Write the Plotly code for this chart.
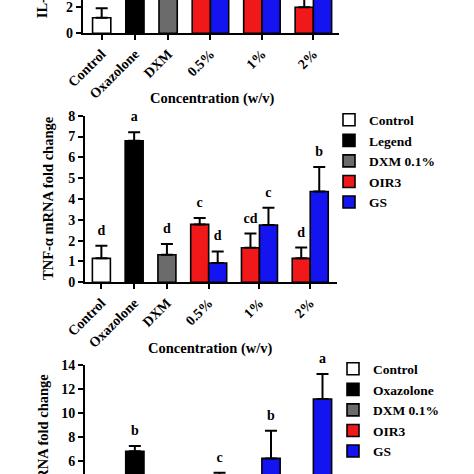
import plotly.graph_objects as go

W = H = 474
FONT = "Liberation Serif"

categories = ["Control", "Oxazolone", "DXM", "0.5%", "1%", "2%"]
bars_per_category = [1, 1, 1, 2, 2, 2]
series_colors = ["#FFFFFF", "#000000", "#6B6B6B", "#F01818", "#1414F0"]

# ---- Top panel (IL-6, mostly cut off in the reference) ----
il_single_mean = [1.20, 9.50, 4.20]
il_single_err = [0.72, 0.80, 0.60]
il_oir3_mean = [5.80, 6.50, 2.00]
il_oir3_err = [0.70, 0.90, 0.90]
il_gs_mean = [6.00, 7.20, 8.00]
il_gs_err = [0.80, 0.90, 1.00]

# ---- Middle panel (TNF-alpha) ----
tnf_single_mean = [1.15, 6.80, 1.32]
tnf_single_err = [0.61, 0.41, 0.52]
tnf_single_letter = ["d", "a", "d"]
tnf_oir3_mean = [2.78, 1.66, 1.15]
tnf_oir3_err = [0.31, 0.68, 0.52]
tnf_oir3_letter = ["c", "cd", "d"]
tnf_gs_mean = [0.93, 2.75, 4.36]
tnf_gs_err = [0.55, 0.83, 1.18]
tnf_gs_letter = ["d", "c", "b"]
tnf_names = ["Control", "Legend", "DXM 0.1%", "OIR3", "GS"]

# ---- Bottom panel (cut off in the reference; hidden letters unknown) ----
bot_single_mean = [1.00, 6.82, 1.60]
bot_single_err = [0.40, 0.43, 0.50]
bot_single_letter = ["", "b", ""]
bot_oir3_mean = [1.80, 2.10, 2.00]
bot_oir3_err = [0.40, 0.50, 0.40]
bot_oir3_letter = ["", "", ""]
bot_gs_mean = [4.30, 6.22, 11.17]
bot_gs_err = [0.73, 2.31, 2.08]
bot_gs_letter = ["c", "b", "a"]
bot_names = ["Control", "Oxazolone", "DXM 0.1%", "OIR3", "GS"]

# category centres on a numeric axis (one unit = one bar width)
GAP = 0.82
centers = []
pos = 0.0
for n in bars_per_category:
    w = n + GAP
    centers.append(pos + w / 2)
    pos += w
single_x = centers[:3]
oir3_x = [c - 0.5 for c in centers[3:]]
gs_x = [c + 0.5 for c in centers[3:]]

fig = go.Figure()


def px2x(p):
    return p / W


def px2y(p):
    return 1 - p / H


def add_panel(k, s_mean, s_err, o_mean, o_err, g_mean, g_err, names, legend_id,
              letters=None, px_per_unit=None, letter_axis=None):
    xa = "x" if k == 1 else f"x{k}"
    ya = "y" if k == 1 else f"y{k}"
    show = legend_id is not None
    lg = legend_id if legend_id else "legend"
    groups = [([single_x[i]], [s_mean[i]], [s_err[i]]) for i in range(3)]
    groups += [(oir3_x, o_mean, o_err), (gs_x, g_mean, g_err)]
    for j, (xs, ys, es) in enumerate(groups):
        fig.add_trace(go.Bar(
            x=xs, y=ys, width=1, name=names[j] if names else None,
            marker=dict(color=series_colors[j], line=dict(color="black", width=1.6)),
            error_y=dict(type="data", array=es, arrayminus=[0] * len(es), symmetric=False,
                         color="black", thickness=2, width=6),
            xaxis=xa, yaxis=ya, showlegend=show, legend=lg,
        ))
    if letters:
        pad = 14.5 / px_per_unit
        lx = single_x + oir3_x + gs_x
        tops = [m + e for m, e in zip(s_mean + o_mean + g_mean, s_err + o_err + g_err)]
        keep = [i for i, t in enumerate(letters) if t]
        fig.add_trace(go.Scatter(
            x=[lx[i] for i in keep], y=[tops[i] + pad for i in keep], mode="text",
            text=[letters[i] for i in keep],
            textposition="middle center", cliponaxis=False, showlegend=False,
            textfont=dict(family=FONT, size=14, weight="bold", color="black"),
            xaxis=xa, yaxis=letter_axis or ya, hoverinfo="skip",
        ))


add_panel(1, il_single_mean, il_single_err, il_oir3_mean, il_oir3_err, il_gs_mean, il_gs_err,
          tnf_names, None)
add_panel(2, tnf_single_mean, tnf_single_err, tnf_oir3_mean, tnf_oir3_err, tnf_gs_mean, tnf_gs_err,
          tnf_names, "legend",
          letters=tnf_single_letter + tnf_oir3_letter + tnf_gs_letter, px_per_unit=20.83)
add_panel(3, bot_single_mean, bot_single_err, bot_oir3_mean, bot_oir3_err, bot_gs_mean, bot_gs_err,
          bot_names, "legend2",
          letters=bot_single_letter + bot_oir3_letter + bot_gs_letter, px_per_unit=12.0,
          letter_axis="y4")

tickfont = dict(family=FONT, size=14, weight="bold", color="black")
axis_common = dict(showline=True, linewidth=2, linecolor="black", ticks="outside", ticklen=5,
                   tickwidth=2, tickcolor="black", showgrid=False, zeroline=False,
                   tickfont=tickfont, fixedrange=True)

xcat = dict(tickmode="array", tickvals=centers, ticktext=categories, tickangle=-45)

# bottom panel: 365 px .. 474 px shows 14 .. 4.92 (12 px per unit)
bot_lo = 4.92
bot_px_per_unit = 12.0
letter_top_px = 340  # taller invisible axis so the labels above the top tick stay drawn

fig.update_layout(
    width=W, height=H, margin=dict(l=0, r=0, t=0, b=0, autoexpand=False),
    paper_bgcolor="white", plot_bgcolor="rgba(0,0,0,0)", barmode="overlay",
    font=dict(family=FONT, size=14, color="black"),
    xaxis=dict(domain=[px2x(82.7), px2x(339.3)], range=[-0.13, 13.93], anchor="y", **xcat, **axis_common),
    yaxis=dict(domain=[px2y(33.3), 1.0], range=[0, 2.56], dtick=2, anchor="x", **axis_common),
    xaxis2=dict(domain=[px2x(85), px2x(336.7)], range=[0, 13.98], anchor="y2", **xcat, **axis_common),
    yaxis2=dict(domain=[px2y(282.3), px2y(115.7)], range=[0, 8], dtick=1, anchor="x2", **axis_common),
    xaxis3=dict(domain=[px2x(85), px2x(339.3)], range=[0, 13.93], anchor="y3", visible=False),
    yaxis3=dict(domain=[0.0, px2y(365)], range=[bot_lo, 14], dtick=2, anchor="x3", **axis_common),
    yaxis4=dict(domain=[0.0, px2y(letter_top_px)],
                range=[bot_lo, bot_lo + (H - letter_top_px) / bot_px_per_unit],
                anchor="x3", visible=False, fixedrange=True),
    legend=dict(x=px2x(329), y=px2y(104.5), xanchor="left", yanchor="top",
                font=dict(family=FONT, size=13.5, weight="bold", color="black"),
                bgcolor="rgba(0,0,0,0)", borderwidth=0),
    legend2=dict(x=px2x(333), y=px2y(353.5), xanchor="left", yanchor="top",
                 font=dict(family=FONT, size=13.5, weight="bold", color="black"),
                 bgcolor="rgba(0,0,0,0)", borderwidth=0),
)

title_font = dict(family=FONT, size=14.5, weight="bold", color="black")
annotations = [
    # top panel y-title (cut off at the top of the image)
    dict(text="IL-6 mRNA fold change", x=px2x(41.7), y=px2y(20), xanchor="center", yanchor="bottom",
         textangle=-90, showarrow=False, xref="paper", yref="paper", font=title_font),
    dict(text="Concentration (w/v)", x=px2x(212), y=px2y(98), xanchor="center", yanchor="middle",
         showarrow=False, xref="paper", yref="paper", font=title_font),
    # middle panel
    dict(text="TNF-α mRNA fold change", x=px2x(48.5), y=px2y(198.5), xanchor="center", yanchor="middle",
         textangle=-90, showarrow=False, xref="paper", yref="paper", font=title_font),
    dict(text="Concentration (w/v)", x=px2x(210.7), y=px2y(348.3), xanchor="center", yanchor="middle",
         showarrow=False, xref="paper", yref="paper", font=title_font),
    # bottom panel y-title (cut off at the bottom of the image)
    dict(text="IL-1β mRNA fold change", x=px2x(43.3), y=px2y(371.7), xanchor="center", yanchor="top",
         textangle=-90, showarrow=False, xref="paper", yref="paper", font=title_font),
]
fig.update_layout(annotations=annotations)

fig.write_html("out.html", config={"displayModeBar": False},
               post_script="document.body.style.margin='0';document.body.style.overflow='hidden';")
